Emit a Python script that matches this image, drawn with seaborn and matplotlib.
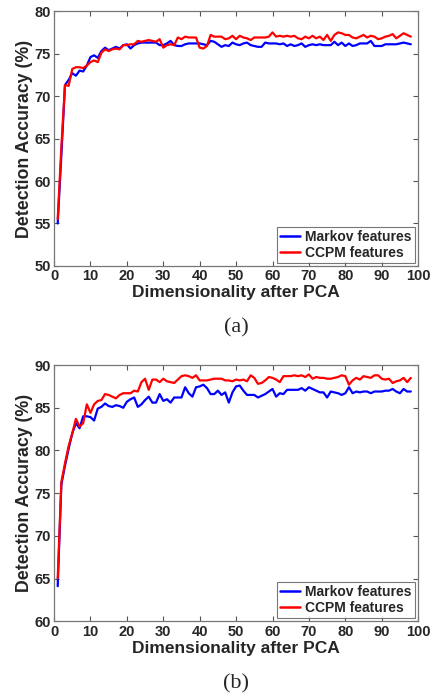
import numpy as np
import pandas as pd
import matplotlib
matplotlib.use("Agg")
import matplotlib.pyplot as plt
import seaborn as sns

dims = list(range(1, 99))

markov_a = [55.0, 63.0, 71.3, 71.9, 72.7, 72.4, 73.0, 72.9, 73.6, 74.6,
            74.8, 74.5, 75.3, 75.7, 75.4, 75.6, 75.8, 75.6, 76.0, 76.1,
            75.6, 76.0, 76.2, 76.3, 76.3, 76.3, 76.3, 76.3, 76.0, 76.0,
            76.2, 76.5, 76.0, 75.9, 75.9, 76.1, 76.2, 76.2, 76.2, 76.2,
            76.1, 76.0, 76.5, 76.4, 76.1, 75.8, 76.0, 75.9, 76.3, 76.1,
            76.0, 76.2, 76.3, 76.0, 75.9, 75.8, 75.8, 76.3, 76.2, 76.2,
            76.2, 76.1, 76.2, 75.9, 76.1, 75.9, 76.0, 76.2, 75.8, 76.0,
            76.1, 76.0, 76.1, 76.0, 76.0, 76.0, 76.4, 76.0, 76.3, 75.9,
            76.2, 75.9, 76.0, 76.2, 76.2, 76.2, 76.5, 75.9, 75.9, 75.9,
            76.1, 76.1, 76.1, 76.1, 76.2, 76.3, 76.2, 76.1]

ccpm_a = [55.5, 64.0, 71.3, 71.2, 73.2, 73.4, 73.4, 73.3, 73.6, 74.0,
          74.2, 74.0, 75.1, 75.5, 75.3, 75.5, 75.6, 75.5, 76.0, 76.0,
          76.1, 76.1, 76.5, 76.4, 76.5, 76.6, 76.5, 76.4, 76.7, 75.7,
          76.0, 76.1, 76.0, 76.9, 76.7, 77.0, 76.9, 76.9, 76.9, 75.7,
          75.6, 75.9, 77.2, 77.0, 77.0, 77.0, 76.7, 76.8, 77.1, 76.7,
          77.1, 76.9, 76.8, 76.6, 76.9, 76.9, 76.9, 76.9, 77.0, 77.5,
          77.0, 77.1, 77.0, 77.1, 77.0, 77.1, 76.8, 76.7, 77.0, 76.8,
          77.1, 76.8, 77.0, 76.6, 77.2, 76.5, 77.2, 77.5, 77.4, 77.2,
          77.2, 76.9, 76.8, 77.0, 77.2, 76.9, 77.1, 77.0, 76.7, 76.8,
          77.0, 77.1, 77.3, 76.8, 77.1, 77.4, 77.2, 77.0]

markov_b = [64.1, 76.0, 78.2, 80.2, 82.0, 83.2, 82.6, 84.0, 84.0, 83.9,
            83.5, 84.9, 85.1, 85.5, 85.2, 85.1, 85.3, 85.2, 85.0, 85.7,
            86.0, 86.2, 85.1, 85.4, 85.9, 86.3, 85.6, 85.6, 86.6, 85.8,
            86.0, 85.6, 86.2, 86.2, 86.2, 87.4, 86.7, 86.3, 87.4, 87.5,
            87.7, 87.3, 86.6, 86.6, 87.0, 86.5, 86.8, 85.6, 86.8, 87.5,
            87.6, 87.0, 86.5, 86.5, 86.5, 86.2, 86.4, 86.6, 86.9, 87.2,
            86.3, 86.7, 86.6, 87.1, 87.1, 87.1, 87.1, 87.3, 87.0, 87.4,
            87.2, 87.0, 86.8, 86.8, 86.2, 86.9, 86.8, 86.7, 86.5, 86.7,
            87.4, 86.7, 86.9, 86.8, 86.9, 86.9, 86.7, 86.9, 86.9, 86.9,
            87.0, 87.0, 87.2, 86.9, 86.7, 87.2, 86.9, 86.9]

ccpm_b = [65.0, 76.3, 78.5, 80.5, 82.0, 83.7, 82.8, 83.2, 85.4, 84.4,
          85.4, 85.8, 85.9, 86.6, 86.5, 86.3, 86.1, 86.5, 86.7, 86.7,
          86.7, 87.0, 86.9, 88.0, 88.4, 87.1, 88.3, 88.3, 88.0, 88.4,
          88.1, 88.0, 87.9, 88.3, 88.7, 88.8, 88.7, 88.5, 88.8, 88.2,
          88.2, 88.2, 88.3, 88.4, 88.4, 88.4, 88.2, 88.2, 88.1, 88.3,
          88.2, 88.3, 88.1, 88.8, 88.5, 87.8, 87.9, 88.2, 88.6, 88.5,
          88.3, 88.0, 88.7, 88.7, 88.7, 88.8, 88.7, 88.8, 88.6, 88.9,
          88.4, 88.6, 88.5, 88.5, 88.4, 88.4, 88.5, 88.6, 88.8, 88.7,
          87.7, 88.2, 88.5, 88.3, 88.7, 88.6, 88.5, 88.8, 88.8, 88.4,
          88.3, 88.4, 87.9, 88.1, 88.2, 88.5, 88.0, 88.5]

series_names = ["Markov features", "CCPM features"]
series_colors = ["#0000ff", "#ff0000"]
panels = [
    ("(a)", markov_a, ccpm_a, (50, 80)),
    ("(b)", markov_b, ccpm_b, (60, 90)),
]

sns.set_style("ticks")
plt.rcParams["font.family"] = ["Liberation Sans", "DejaVu Sans"]
plt.rcParams["font.weight"] = "bold"

fig = plt.figure(figsize=(4.36, 6.98), dpi=100)
axes_rects = [
    [0.124, 0.619, 0.835, 0.365],
    [0.124, 0.110, 0.835, 0.367],
]

for rect, (tag, markov, ccpm, ylim) in zip(axes_rects, panels):
    ax = fig.add_axes(rect)
    df = pd.DataFrame({
        "dim": dims * 2,
        "acc": markov + ccpm,
        "feat": [series_names[0]] * len(dims) + [series_names[1]] * len(dims),
    })
    sns.lineplot(data=df, x="dim", y="acc", hue="feat",
                 palette=series_colors, hue_order=series_names,
                 linewidth=1.6, ax=ax)
    ax.set_xlim(0, 100)
    ax.set_ylim(*ylim)
    ax.set_xticks(range(0, 101, 10))
    ax.set_yticks(range(ylim[0], ylim[1] + 1, 5))
    ax.tick_params(direction="in", length=3.5, width=0.8, top=True, right=True,
                   labelsize=10.5, color="#555555")
    ax.tick_params(axis="x", pad=2.5)
    ax.tick_params(axis="y", pad=2.5)
    for lbl in ax.get_xticklabels() + ax.get_yticklabels():
        lbl.set_fontweight("bold")
    for sp in ax.spines.values():
        sp.set_visible(True)
        sp.set_color("#777777")
        sp.set_linewidth(0.9)
    ax.set_xlabel("Dimensionality after PCA", fontsize=12.5, fontweight="bold",
                  labelpad=1.5)
    ax.set_ylabel("Detection Accuracy (%)", fontsize=12.8, fontweight="bold",
                  labelpad=1)
    leg = ax.legend(loc="lower right", fontsize=10, frameon=True, fancybox=False,
                    borderaxespad=0.2, handlelength=1.4, handletextpad=0.4,
                    borderpad=0.25, labelspacing=0.12)
    leg.set_title(None)
    leg.get_frame().set_edgecolor("#555555")
    leg.get_frame().set_linewidth(0.8)
    for t in leg.get_texts():
        t.set_fontweight("bold")
    for ln in leg.get_lines():
        ln.set_linewidth(1.8)
    ax.text(0.5, -0.245, tag, transform=ax.transAxes, ha="center", va="center",
            fontsize=16, fontweight="normal", family="Liberation Serif")

fig.savefig("out.png", dpi=100, facecolor="white")
